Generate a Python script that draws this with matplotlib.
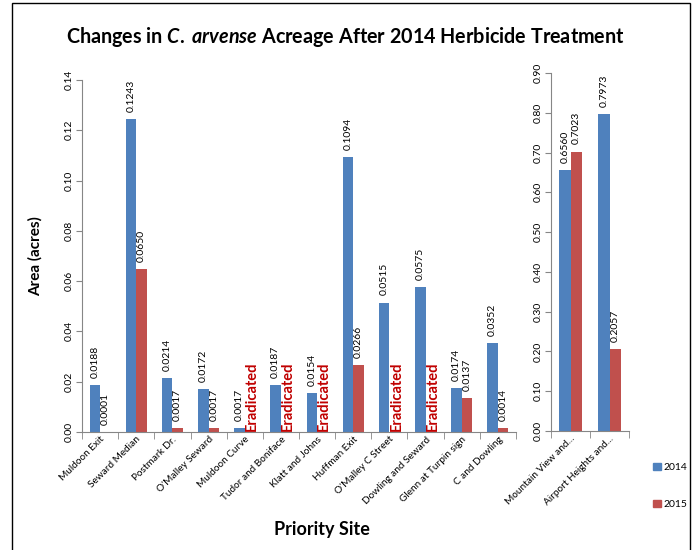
import numpy as np
import matplotlib
matplotlib.use("Agg")
import matplotlib.pyplot as plt
from matplotlib.patches import Rectangle, Patch

plt.rcParams["font.family"] = ["Lato", "DejaVu Sans"]
plt.rcParams["mathtext.fontset"] = "custom"
plt.rcParams["mathtext.it"] = "Lato:italic:bold"
plt.rcParams["mathtext.rm"] = "Lato:bold"

# small sites (left axis)
sites = ["Muldoon Exit", "Seward Median", "Postmark Dr.", "O'Malley Seward",
         "Muldoon Curve", "Tudor and Boniface", "Klatt and Johns", "Huffman Exit",
         "O'Malley C Street", "Dowling and Seward", "Glenn at Turpin sign",
         "C and Dowling"]
acres_2014 = [0.0188, 0.1243, 0.0214, 0.0172, 0.0017, 0.0187, 0.0154, 0.1094,
              0.0515, 0.0575, 0.0174, 0.0352]
# None = eradicated
acres_2015 = [0.0001, 0.0650, 0.0017, 0.0017, None, None, None, 0.0266,
              None, None, 0.0137, 0.0014]

# large sites (right axis)
big_sites = ["Mountain View and...", "Airport Heights and..."]
big_2014 = [0.6560, 0.7973]
big_2015 = [0.7023, 0.2057]

BLUE = "#4F81BD"
RED = "#C0504D"
AXIS_GRAY = "#868686"
W = 0.29

fig = plt.figure(figsize=(6.94, 5.5), dpi=100)

# outer frame
fig.patches.append(Rectangle((12 / 694, -0.05), (690 - 12) / 694, 1.05 - 3 / 550,
                             transform=fig.transFigure, fill=False,
                             edgecolor="black", linewidth=1.0))

fig.text(0.497, 1 - 37 / 550,
         r"Changes in $\mathit{C.}$ $\mathit{arvense}$ Acreage After 2014 Herbicide Treatment",
         ha="center", va="center", fontsize=14.2, fontweight="bold")


def style_axis(ax, ymax, step):
    for s in ["top", "right"]:
        ax.spines[s].set_visible(False)
    for s in ["left", "bottom"]:
        ax.spines[s].set_color(AXIS_GRAY)
    ax.set_ylim(0, ymax)
    ax.set_yticks(np.arange(0, ymax + step / 2, step))
    ax.yaxis.set_major_formatter(matplotlib.ticker.FormatStrFormatter("%.2f"))
    ax.tick_params(axis="y", labelrotation=90, labelsize=7.5, color=AXIS_GRAY,
                   length=4, pad=2)
    for lab in ax.get_yticklabels():
        lab.set_va("center")
    ax.tick_params(axis="x", which="major", length=0, labelsize=7.2, pad=2)
    ax.tick_params(axis="x", which="minor", length=5, color=AXIS_GRAY)


def label_bar(ax, x, v, ymax):
    ax.text(x, v + ymax * 0.02, f"{v:.4f}", rotation=90, ha="center",
            va="bottom", fontsize=7.5)


# left panel
ax = fig.add_axes([82 / 694, 1 - 432 / 550, 434 / 694, 352 / 550])
x = np.arange(len(sites))
ax.bar(x - W / 2, acres_2014, W, color=BLUE)
vals15 = [v if v is not None else 0 for v in acres_2015]
ax.bar(x + W / 2, vals15, W, color=RED)
for i, v in enumerate(acres_2014):
    label_bar(ax, x[i] - W / 2, v, 0.14)
for i, v in enumerate(acres_2015):
    if v is None:
        ax.text(x[i] + W / 2 + 0.05, 0.0003, "Eradicated", rotation=90,
                ha="center", va="bottom", fontsize=10.5, fontweight="bold",
                color="#C00000")
    else:
        label_bar(ax, x[i] + W / 2, v, 0.14)
ax.set_xlim(-0.5, len(sites) - 0.5)
ax.set_xticks(x)
ax.set_xticklabels(sites, rotation=45, ha="right", rotation_mode="anchor")
ax.set_xticks(np.arange(-0.5, len(sites)), minor=True)
style_axis(ax, 0.14, 0.02)
ax.set_ylabel("Area (acres)", fontsize=11, fontweight="bold", labelpad=16)

# right panel
ax2 = fig.add_axes([551 / 694, 1 - 431 / 550, 78 / 694, 358 / 550])
xb = np.arange(len(big_sites))
ax2.bar(xb - W / 2, big_2014, W, color=BLUE)
ax2.bar(xb + W / 2, big_2015, W, color=RED)
for i in range(len(big_sites)):
    label_bar(ax2, xb[i] - W / 2, big_2014[i], 0.9)
    label_bar(ax2, xb[i] + W / 2, big_2015[i], 0.9)
ax2.set_xlim(-0.5, len(big_sites) - 0.5)
ax2.set_xticks(xb)
ax2.set_xticklabels(big_sites, rotation=45, ha="right", rotation_mode="anchor")
ax2.set_xticks(np.arange(-0.5, len(big_sites)), minor=True)
style_axis(ax2, 0.9, 0.1)

fig.text(322 / 694, 1 - 530 / 550, "Priority Site", ha="center", va="center",
         fontsize=13, fontweight="bold")

handles = [Patch(color=BLUE, label="2014"), Patch(color=RED, label="2015")]
fig.legend(handles=handles, loc="center left",
           bbox_to_anchor=(644 / 694, 1 - 486 / 550), frameon=False,
           fontsize=7.5, handlelength=0.7, handleheight=0.7, handletextpad=0.3,
           labelspacing=2.6)

fig.savefig("out.png", dpi=100)
